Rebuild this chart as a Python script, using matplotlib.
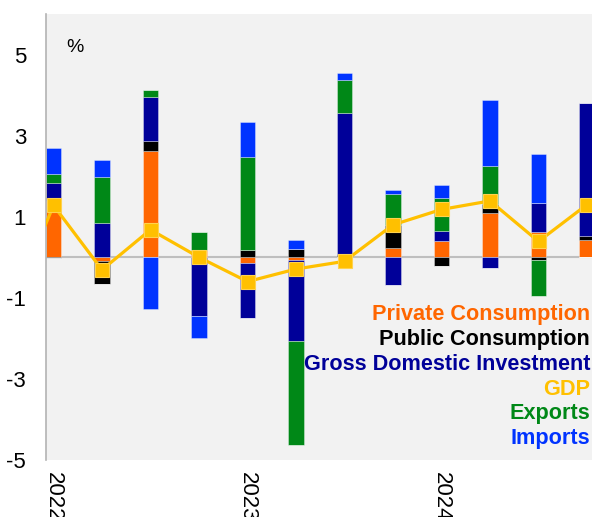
import matplotlib
matplotlib.use("Agg")
import matplotlib.pyplot as plt
import numpy as np

plt.rcParams['font.family'] = ['Liberation Sans', 'DejaVu Sans']

quarters = ["2022Q1", "2022Q2", "2022Q3", "2022Q4",
            "2023Q1", "2023Q2", "2023Q3", "2023Q4",
            "2024Q1", "2024Q2", "2024Q3", "2024Q4"]
private_consumption = [1.40, -0.08, 2.62, 0.19, -0.14, -0.07, 0.00, 0.23, 0.41, 1.09, 0.63, 0.43]
public_consumption = [-0.03, -0.59, 0.25, 0.00, 0.17, 0.20, 0.08, 0.56, -0.22, 0.23, -0.06, 0.09]
gross_domestic_investment = [0.43, 0.84, 1.08, -1.44, -1.36, -2.00, 3.49, -0.68, 0.25, -0.26, 0.72, 3.29]
exports = [0.23, 1.13, 0.17, 0.44, 2.31, -2.56, 0.81, 0.78, 0.80, 0.93, -0.90, 0.00]
imports = [0.64, 0.44, -1.27, -0.56, 0.85, 0.23, 0.16, 0.08, 0.33, 1.62, 1.20, 0.00]
gdp = [1.28, -0.31, 0.68, 0.00, -0.60, -0.29, -0.10, 0.80, 1.18, 1.39, 0.39, 1.30]
gdp_2021q4 = -1.6  # previous quarter, line enters from the left edge

year_ticks = [0, 4, 8]
year_labels = ["2022", "2023", "2024"]
y_ticks = [-5, -3, -1, 1, 3, 5]

series = [
    ("Private Consumption", private_consumption, "#ff6600"),
    ("Public Consumption", public_consumption, "#000000"),
    ("Gross Domestic Investment", gross_domestic_investment, "#000099"),
    ("Exports", exports, "#008817"),
    ("Imports", imports, "#0033ff"),
]
gdp_color = "#ffc000"

W, H = 592, 517
fig = plt.figure(figsize=(W / 100, H / 100), dpi=100)
left_px, right_px, top_px, bottom_px = 45.5, 592, 14, 460
ax = fig.add_axes([left_px / W, 1 - bottom_px / H, (right_px - left_px) / W, (bottom_px - top_px) / H])
ax.set_facecolor("#f2f2f2")

x = np.arange(len(quarters))
width = 0.31
pos_base = np.zeros(len(x))
neg_base = np.zeros(len(x))
for name, vals, col in series:
    v = np.array(vals)
    pos = np.where(v > 0, v, 0)
    neg = np.where(v < 0, v, 0)
    ax.bar(x, pos, width, bottom=pos_base, color=col, edgecolor=(1, 1, 1, 0.35), linewidth=0.7, zorder=2)
    ax.bar(x, neg, width, bottom=neg_base, color=col, edgecolor=(1, 1, 1, 0.35), linewidth=0.7, zorder=2)
    pos_base += pos
    neg_base += neg

ax.axhline(0, color="#bfbfbf", lw=1.5, zorder=1)

gx = np.concatenate([[-1], x])
gy = np.concatenate([[gdp_2021q4], gdp])
ax.plot(gx, gy, color=gdp_color, lw=2.3, marker="s", markersize=10,
        markerfacecolor=gdp_color, markeredgecolor="#ffd24d", markeredgewidth=0.8, zorder=3, clip_on=True)

ax.set_xlim((left_px - 53.5) / 48.5, (right_px - 53.5) / 48.5)
ax.set_ylim(-5, (257 - top_px) / 40.5)
ax.set_yticks(y_ticks)
ax.set_yticklabels([str(t) for t in y_ticks], fontsize=16)
ax.set_xticks(year_ticks)
ax.set_xticklabels(year_labels, rotation=-90, fontsize=16, va="top", ha="center")
ax.tick_params(axis="y", length=0, pad=14)
ax.tick_params(axis="x", length=0, pad=9)
for s in ["top", "right", "bottom"]:
    ax.spines[s].set_visible(False)
ax.spines["left"].set_color("#b3b3b3")
ax.spines["left"].set_linewidth(1.2)

ax.text((75 - left_px) / (right_px - left_px), 1 - (48 - top_px) / (bottom_px - top_px), "%",
        transform=ax.transAxes, fontsize=14, ha="center", va="center")

legend_items = [
    ("Private Consumption", "#ff6600"),
    ("Public Consumption", "#000000"),
    ("Gross Domestic Investment", "#000099"),
    ("GDP", gdp_color),
    ("Exports", "#008817"),
    ("Imports", "#0033ff"),
]
for i, (name, col) in enumerate(legend_items):
    ypx = 314.8 + 24.8 * i
    fig.text(590 / W, 1 - ypx / H, name, color=col, fontsize=15.6, fontweight="bold",
             ha="right", va="center")

fig.savefig("out.png", dpi=100)
